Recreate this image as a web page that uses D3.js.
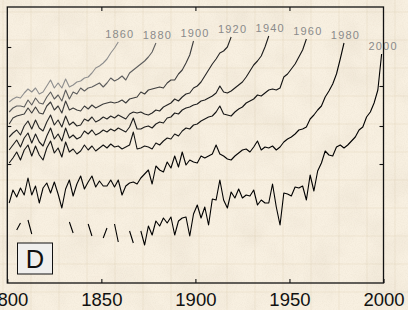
<!DOCTYPE html>
<html><head><meta charset="utf-8">
<script src="https://cdn.jsdelivr.net/npm/d3@7"></script>
<style>html,body{margin:0;padding:0;background:#f8f0e1;} svg{display:block}</style>
</head><body>
<svg id="c" width="408" height="310"></svg>
<script>
// ---- data ----
const endYears = [1860, 1880, 1900, 1920, 1940, 1960, 1980, 2000];
const startYear = 1801, stepYears = 2;
const s1860 = [1.81,1.84,1.86,1.85,1.90,1.94,1.91,1.95,1.89,1.91,1.97,2.03,1.95,2.00,1.95,2.04,1.96,1.98,2.01,2.02,2.05,2.06,2.10,2.15,2.17,2.20,2.24,2.30,2.35,2.41];
const s1880 = [1.71,1.75,1.77,1.77,1.76,1.83,1.78,1.85,1.80,1.79,1.86,1.91,1.84,1.88,1.82,1.93,1.84,1.91,1.89,1.95,1.92,1.95,1.96,1.98,2.00,1.96,2.00,2.05,2.02,2.04,2.07,2.03,2.10,2.13,2.16,2.19,2.22,2.26,2.31,2.40];
const s1900 = [1.59,1.65,1.67,1.68,1.69,1.75,1.70,1.76,1.70,1.69,1.77,1.81,1.73,1.77,1.70,1.82,1.73,1.75,1.73,1.72,1.77,1.74,1.78,1.75,1.77,1.79,1.80,1.81,1.80,1.81,1.83,1.80,1.84,1.85,1.86,1.91,1.89,1.93,1.94,1.95,1.96,1.95,2.00,2.03,2.03,2.09,2.13,2.20,2.28,2.42];
const s1920 = [1.46,1.50,1.53,1.48,1.57,1.62,1.54,1.63,1.55,1.52,1.61,1.68,1.58,1.63,1.56,1.67,1.58,1.61,1.57,1.58,1.64,1.62,1.66,1.61,1.63,1.66,1.64,1.67,1.65,1.68,1.66,1.64,1.69,1.71,1.70,1.71,1.69,1.68,1.70,1.73,1.72,1.76,1.78,1.80,1.84,1.82,1.86,1.89,1.90,1.95,1.97,2.01,2.07,2.13,2.19,2.24,2.30,2.32,2.36,2.46];
const s1940 = [1.33,1.38,1.43,1.36,1.45,1.50,1.40,1.49,1.41,1.37,1.47,1.55,1.44,1.49,1.42,1.55,1.45,1.48,1.44,1.46,1.52,1.49,1.53,1.48,1.50,1.53,1.51,1.54,1.52,1.55,1.53,1.51,1.56,1.65,1.54,1.54,1.56,1.57,1.55,1.59,1.61,1.60,1.65,1.66,1.70,1.69,1.73,1.75,1.76,1.78,1.79,1.82,1.83,1.85,1.87,1.90,1.97,1.91,1.90,1.92,1.95,1.98,2.01,2.06,2.12,2.18,2.22,2.27,2.36,2.47];
const s1960 = [1.20,1.25,1.31,1.23,1.33,1.38,1.27,1.37,1.28,1.23,1.35,1.42,1.30,1.35,1.26,1.41,1.31,1.34,1.29,1.32,1.38,1.33,1.37,1.32,1.35,1.38,1.35,1.39,1.36,1.37,1.34,1.36,1.38,1.51,1.34,1.35,1.37,1.36,1.34,1.40,1.38,1.42,1.45,1.44,1.49,1.47,1.52,1.55,1.54,1.58,1.59,1.62,1.64,1.66,1.67,1.71,1.77,1.69,1.68,1.67,1.71,1.74,1.76,1.80,1.82,1.84,1.88,1.87,1.90,1.93,1.94,1.93,1.95,2.06,2.09,2.14,2.19,2.26,2.33,2.44];
const s1980 = [0.80,0.93,0.86,0.95,0.88,1.05,0.88,0.97,0.80,0.95,1.00,0.90,1.01,0.89,0.75,0.94,1.03,0.87,0.99,1.07,0.94,1.01,1.07,0.96,1.02,0.97,0.97,1.03,0.96,1.03,0.88,0.97,1.00,1.01,0.99,1.05,1.09,1.13,0.99,1.17,1.13,1.11,1.21,1.15,1.27,1.16,1.31,1.18,1.23,1.21,1.20,1.27,1.25,1.27,1.29,1.38,1.29,1.27,1.24,1.23,1.27,1.30,1.33,1.34,1.31,1.36,1.42,1.33,1.36,1.35,1.37,1.33,1.36,1.41,1.44,1.46,1.49,1.53,1.54,1.56,1.64,1.68,1.73,1.77,1.86,1.92,1.99,2.09,2.24,2.40];
const s2000 = [null,null,0.53,0.60,null,0.63,0.49,null,null,null,
  null,null,null,null,null,null,0.61,0.50,null,null,
  null,0.59,0.47,null,null,0.45,0.55,null,0.59,0.41,
  null,null,0.52,0.40,null,0.52,0.38,0.57,0.48,0.62,
  0.57,0.65,0.60,0.66,0.48,0.62,0.65,0.66,0.47,0.69,
  0.78,0.65,0.76,0.58,0.84,0.83,1.03,0.83,0.75,0.91,
  0.85,0.94,0.85,0.88,0.87,0.93,0.78,0.83,0.80,0.80,
  0.99,0.76,0.58,0.90,0.89,0.87,0.96,0.95,0.97,0.83,
  1.08,0.92,1.12,1.20,1.32,1.28,1.27,1.36,1.38,1.35,
  1.38,1.42,1.46,1.53,1.56,1.66,1.71,1.80,1.93,2.29];
const seriesValues = [s1860, s1880, s1900, s1920, s1940, s1960, s1980, s2000];
const seriesColors = ["#8e8e8e", "#5e5e5e", "#3c3c3c", "#262626", "#1c1c1c", "#141414", "#050505", "#000000"];
const xTicks = [1800, 1850, 1900, 1950, 2000];
const yTicksLeft = [1.19, 1.57, 1.97, 2.36];
const yTicksRight = [1.19, 1.57, 1.97];
const panelLabel = "D";

// ---- layout ----
const W = 408, H = 310;
const L = 7.3, R = 383.5, T = 7, B = 283;
const svg = d3.select("#c");
const x = d3.scaleLinear().domain([1800, 2000]).range([L, R]);
const y = d3.scaleLinear().domain([0, 2.76]).range([B, T]);

// paper background
const defs = svg.append("defs");
const f1 = defs.append("filter").attr("id", "blot").attr("x", 0).attr("y", 0).attr("width", "100%").attr("height", "100%");
f1.append("feTurbulence").attr("type", "fractalNoise").attr("baseFrequency", "0.03").attr("numOctaves", 4).attr("seed", 7).attr("result", "n");
f1.append("feColorMatrix").attr("in", "n").attr("type", "matrix")
  .attr("values", "0 0 0 0 0.6  0 0 0 0 0.52  0 0 0 0 0.4  0.3 0 0 0 -0.12");
const f2 = defs.append("filter").attr("id", "grain").attr("x", 0).attr("y", 0).attr("width", "100%").attr("height", "100%");
f2.append("feTurbulence").attr("type", "fractalNoise").attr("baseFrequency", "0.9").attr("numOctaves", 2).attr("seed", 3).attr("result", "n");
f2.append("feColorMatrix").attr("in", "n").attr("type", "matrix")
  .attr("values", "0 0 0 0 0.55  0 0 0 0 0.48  0 0 0 0 0.38  0.22 0 0 0 -0.08");

svg.append("rect").attr("width", W).attr("height", H).attr("fill", "#f8f0e1");
svg.append("rect").attr("width", W).attr("height", H).attr("filter", "url(#blot)");
svg.append("rect").attr("width", W).attr("height", H).attr("filter", "url(#grain)");
const grid = svg.append("g").attr("stroke", "#d3c4a4").attr("stroke-opacity", 0.3).attr("stroke-width", 0.8);
grid.selectAll("line.v").data(d3.range(3, W, 28)).join("line")
  .attr("x1", d => d).attr("x2", d => d).attr("y1", 0).attr("y2", H);
grid.selectAll("line.h").data(d3.range(12, H, 28)).join("line").attr("class", "h")
  .attr("x1", 0).attr("x2", W).attr("y1", d => d).attr("y2", d => d);

// axes
const fontAxis = "'Liberation Sans', Arial, Helvetica, sans-serif";
const gx = svg.append("g").attr("transform", `translate(0,${B})`)
  .call(d3.axisBottom(x).tickValues(xTicks).tickSize(-4).tickPadding(10).tickFormat(d3.format("d")));
gx.select(".domain").remove();
gx.selectAll("text").attr("font-family", fontAxis).attr("font-size", 18.5).attr("fill", "#111");
gx.selectAll("line").attr("stroke", "#111").attr("stroke-width", 1.1);
const gt = svg.append("g").attr("transform", `translate(0,${T})`)
  .call(d3.axisTop(x).tickValues(xTicks.slice(1, -1)).tickSize(-4).tickFormat(""));
gt.select(".domain").remove();
gt.selectAll("line").attr("stroke", "#111").attr("stroke-width", 1.1);
const gl = svg.append("g").attr("transform", `translate(${L},0)`)
  .call(d3.axisLeft(y).tickValues(yTicksLeft).tickSize(-4).tickFormat(""));
gl.select(".domain").remove();
gl.selectAll("line").attr("stroke", "#111").attr("stroke-width", 1.1);
const gr = svg.append("g").attr("transform", `translate(${R},0)`)
  .call(d3.axisRight(y).tickValues(yTicksRight).tickSize(-4).tickFormat(""));
gr.select(".domain").remove();
gr.selectAll("line").attr("stroke", "#111").attr("stroke-width", 1.1);

// series
const line = d3.line().defined(d => d.v != null).x(d => x(d.year)).y(d => y(d.v));
const series = endYears.map((e, i) => ({
  end: e,
  color: seriesColors[i],
  pts: seriesValues[i].map((v, k) => ({ year: startYear + k * stepYears, v }))
}));
svg.append("g").selectAll("path").data(series).join("path")
  .attr("d", d => line(d.pts))
  .attr("fill", "none")
  .attr("stroke", d => d.color)
  .attr("stroke-width", 1.1)
  .attr("stroke-linejoin", "round");

// end labels
svg.append("g").selectAll("text").data(series).join("text")
  .attr("x", d => { const p = d.pts[d.pts.length - 1]; return x(p.year) + 1.5; })
  .attr("y", d => { const p = d.pts[d.pts.length - 1]; return y(p.v) - 4; })
  .attr("text-anchor", "middle")
  .attr("font-family", fontAxis)
  .attr("font-size", 11)
  .attr("letter-spacing", 1.2)
  .attr("fill", "#8a8a8a")
  .text(d => d.end);

// frame
svg.append("rect").attr("x", L).attr("y", T).attr("width", R - L).attr("height", B - T)
  .attr("fill", "none").attr("stroke", "#111").attr("stroke-width", 1.3);

// panel label
const pg = svg.append("g");
pg.append("rect").attr("x", 17.5).attr("y", 243).attr("width", 35).attr("height", 31)
  .attr("fill", "#f0efed").attr("stroke", "#111").attr("stroke-width", 1);
pg.append("text").attr("x", 35).attr("y", 267.5).attr("text-anchor", "middle")
  .attr("font-family", fontAxis).attr("font-size", 25.5).attr("fill", "#111").text(panelLabel);
</script>
</body></html>
